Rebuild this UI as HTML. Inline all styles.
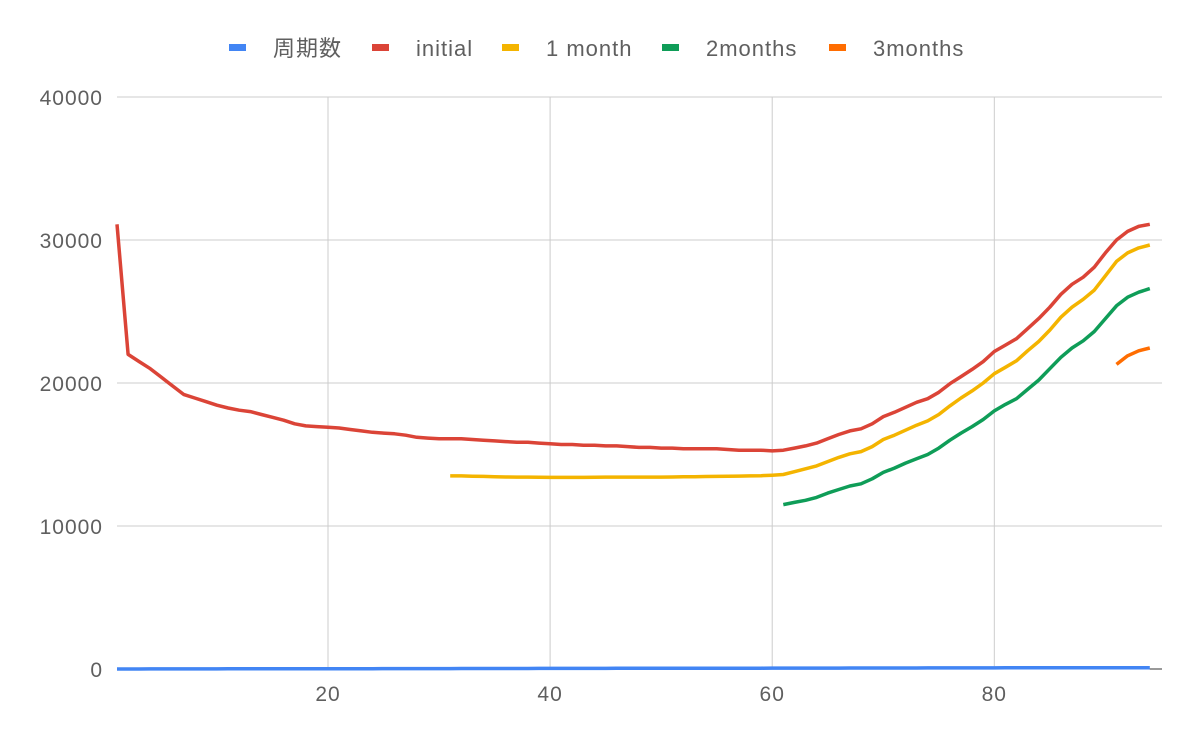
<!DOCTYPE html>
<html><head><meta charset="utf-8"><style>
html,body{margin:0;padding:0;background:#fff;}
svg text{font-family:"Liberation Sans","Noto Sans CJK JP",sans-serif;fill:#5f5f5f;}
</style></head><body>
<svg id="chart" width="1200" height="742" xmlns="http://www.w3.org/2000/svg">
<g id="grid"></g><g id="axes"></g><g id="series"></g><g id="legend"></g>
</svg>
<script>
const xTicks=[20,40,60,80];
const yTicks=[0,10000,20000,30000,40000];
const xs=[];for(let i=1;i<=94;i++)xs.push(i);
const seriesNames=["周期数","initial","1 month","2months","3months"];
const seriesColors=["#4285f4","#db4437","#f4b400","#0f9d58","#ff6d01"];
const blueVals=xs.slice();
const redVals=[31100,22000,21500,21000,20400,19800,19200,18950,18700,18450,18250,18100,18000,17800,17600,17400,17150,17000,16950,16900,16850,16750,16650,16550,16500,16450,16350,16200,16150,16100,16100,16100,16050,16000,15950,15900,15850,15850,15800,15750,15700,15700,15650,15650,15600,15600,15550,15500,15500,15450,15450,15400,15400,15400,15400,15350,15300,15300,15300,15250,15300,15450,15600,15800,16100,16400,16650,16800,17150,17650,17950,18300,18650,18900,19350,19950,20450,20950,21500,22200,22650,23100,23800,24500,25300,26200,26900,27400,28100,29100,30000,30600,30950,31100];
const yellowStart=31;
const yellowVals=[13500,13500,13480,13470,13450,13430,13420,13420,13410,13400,13400,13400,13400,13410,13420,13420,13420,13420,13420,13420,13430,13440,13450,13460,13470,13480,13490,13500,13520,13550,13600,13800,14000,14200,14500,14800,15050,15200,15550,16050,16350,16700,17050,17350,17800,18400,18950,19450,20000,20650,21100,21550,22250,22900,23700,24600,25300,25850,26500,27500,28500,29100,29450,29650];
const greenStart=61;
const greenVals=[11500,11650,11800,12000,12300,12550,12800,12950,13300,13750,14050,14400,14700,15000,15450,16000,16500,16950,17450,18050,18500,18900,19550,20200,21000,21800,22450,22950,23600,24500,25400,26000,26350,26600];
const orangeStart=91;
const orangeVals=[21300,21900,22250,22450];

const X0=117,X1=1162,Y0=669,Y1=97;
const xMin=1,xMax=95.1;
const sx=v=>X0+(v-xMin)/(xMax-xMin)*(X1-X0);
const sy=v=>Y0-(v/40000)*(Y0-Y1);
const NS="http://www.w3.org/2000/svg";
function mk(tag,attrs,parent){const e=document.createElementNS(NS,tag);for(const k in attrs)e.setAttribute(k,attrs[k]);parent.appendChild(e);return e;}
const grid=document.getElementById('grid'),axes=document.getElementById('axes'),ser=document.getElementById('series'),leg=document.getElementById('legend');
yTicks.forEach(t=>{
  const l=mk('line',{x1:X0,x2:X1,y1:sy(t),y2:sy(t),stroke:t===0?'#333':'#cccccc','stroke-width':1},grid);
  
  
  const tx=mk('text',{x:103,y:sy(t)+8,'text-anchor':'end','font-size':21,'letter-spacing':1},axes);tx.textContent=t;
  
  
});
xTicks.forEach(t=>{
  const l=mk('line',{x1:sx(t),x2:sx(t),y1:Y1,y2:Y0,stroke:'#cccccc','stroke-width':1},grid);
  
  
  const tx=mk('text',{x:sx(t),y:701,'text-anchor':'middle','font-size':21,'letter-spacing':1},axes);tx.textContent=t;
  
  
});
function line(vals,start,color,name){
  const d=vals.map((v,i)=>(i?'L':'M')+sx(start+i).toFixed(1)+','+sy(v).toFixed(1)).join('');
  const p=mk('path',{d:d,fill:'none',stroke:color,'stroke-width':3.5,'stroke-linejoin':'round'},ser);
  
  
}
line(redVals,1,seriesColors[1],'series-initial');
line(yellowVals,yellowStart,seriesColors[2],'series-1-month');
line(greenVals,greenStart,seriesColors[3],'series-2months');
line(orangeVals,orangeStart,seriesColors[4],'series-3months');
line(blueVals,1,seriesColors[0],'series-cycle-count');
const legX=[229,372,502,662,829];
seriesNames.forEach((n,i)=>{
  const r=mk('rect',{x:legX[i],y:44,width:17,height:7,fill:seriesColors[i]},leg);
  
  
  const t=mk('text',{x:legX[i]+44,y:56,'font-size':22,'letter-spacing':1},leg);t.textContent=n;
  
  
});
</script>
</body></html>
